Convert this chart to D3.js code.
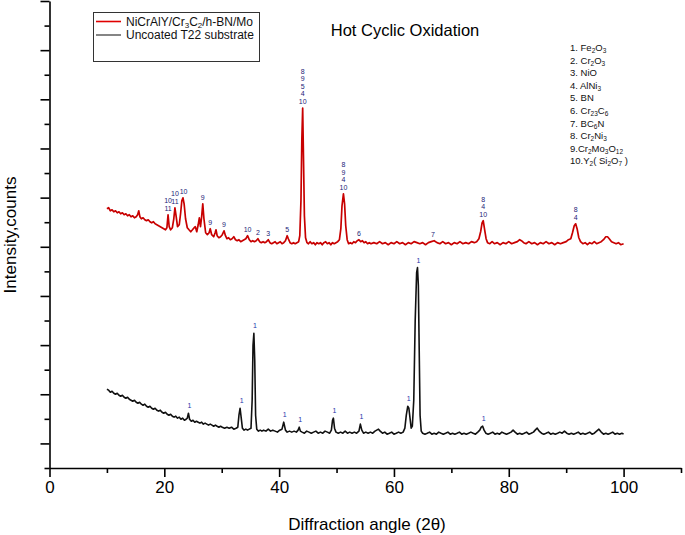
<!DOCTYPE html>
<html><head><meta charset="utf-8">
<script src="https://cdn.jsdelivr.net/npm/d3@7"></script>
<style>
body{margin:0;background:#fff}
svg{display:block}
text{font-family:"Liberation Sans",Arial,Helvetica,sans-serif}
</style>
</head><body>
<svg id="chart" width="685" height="535"></svg>
<script>
// ---------- DATA ----------
const coatedPattern = [
[10.0,2386],[10.3,2397],[10.6,2366],[10.9,2376],[11.2,2356],[11.5,2366],[11.8,2346],[12.1,2356],[12.4,2336],[12.7,2346],
[13.0,2326],[13.3,2336],[13.6,2315],[13.9,2326],[14.2,2305],[14.5,2315],[14.8,2295],[15.1,2305],[15.35,2326],[15.55,2366],
[15.75,2305],[16.0,2285],[16.3,2295],[16.6,2275],[16.9,2265],[17.2,2275],[17.5,2255],[17.8,2244],[18.1,2255],[18.4,2234],
[18.7,2224],[19.0,2214],[19.3,2204],[19.6,2194],[19.9,2184],[20.2,2173],[20.45,2194],[20.65,2326],[20.85,2204],[21.1,2173],
[21.4,2194],[21.65,2285],[21.85,2397],[22.05,2315],[22.3,2204],[22.6,2224],[22.85,2346],[23.05,2468],[23.25,2498],[23.45,2437],
[23.7,2285],[24.0,2194],[24.3,2173],[24.6,2153],[24.9,2173],[25.2,2194],[25.4,2204],[25.65,2153],[25.9,2224],[26.1,2295],
[26.3,2204],[26.5,2305],[26.7,2437],[26.9,2285],[27.2,2143],[27.5,2123],[27.8,2143],[28.0,2184],[28.25,2123],[28.6,2102],
[28.85,2143],[29.0,2173],[29.2,2113],[29.5,2092],[29.8,2102],[30.1,2123],[30.4,2163],[30.65,2113],[30.9,2082],[31.2,2092],
[31.5,2072],[31.8,2082],[32.1,2102],[32.4,2072],[32.7,2062],[33.0,2072],[33.3,2052],[33.6,2062],[33.9,2072],[34.2,2082],
[34.5,2113],[34.8,2072],[35.1,2052],[35.4,2062],[35.7,2052],[36.0,2062],[36.3,2082],[36.6,2052],[36.9,2042],[37.2,2052],
[37.5,2042],[37.8,2052],[38.1,2072],[38.4,2042],[38.7,2031],[39.0,2042],[39.3,2052],[39.6,2031],[39.9,2042],[40.2,2052],
[40.5,2031],[40.8,2042],[41.1,2062],[41.4,2113],[41.6,2082],[41.9,2042],[42.2,2031],[42.5,2042],[42.8,2031],[43.1,2042],
[43.4,2052],[43.6,2113],[43.8,2468],[43.95,3076],[44.1,3411],[44.25,2873],[44.4,2315],[44.6,2092],[44.85,2042],[45.1,2031],
[45.4,2052],[45.7,2031],[46.0,2042],[46.3,2021],[46.6,2042],[46.9,2031],[47.2,2042],[47.5,2021],[47.8,2042],[48.1,2052],
[48.4,2031],[48.7,2042],[49.0,2021],[49.3,2042],[49.6,2031],[49.9,2042],[50.2,2052],[50.5,2072],[50.75,2184],[50.95,2417],
[51.2,2539],[51.4,2437],[51.6,2214],[51.85,2072],[52.1,2031],[52.4,2042],[52.7,2031],[53.0,2052],[53.3,2042],[53.6,2062],
[53.9,2072],[54.2,2052],[54.5,2062],[54.8,2042],[55.1,2052],[55.4,2031],[55.7,2042],[56.0,2031],[56.5,2042],[57.0,2031],
[57.5,2052],[58.0,2031],[58.5,2042],[59.0,2021],[59.5,2042],[60.0,2031],[60.5,2052],[61.0,2031],[61.5,2042],[62.0,2021],
[62.5,2042],[63.0,2031],[63.5,2052],[64.0,2042],[64.5,2031],[65.0,2042],[65.5,2021],[66.0,2042],[66.5,2052],[67.0,2062],
[67.5,2042],[68.0,2031],[68.5,2052],[69.0,2031],[69.5,2042],[70.0,2021],[70.5,2042],[71.0,2031],[71.5,2052],[72.0,2031],
[72.5,2042],[73.0,2031],[73.5,2052],[74.0,2042],[74.4,2052],[74.8,2082],[75.1,2153],[75.35,2244],[75.55,2265],[75.8,2173],
[76.05,2082],[76.3,2042],[76.7,2031],[77.1,2052],[77.5,2031],[78.0,2042],[78.5,2021],[79.0,2042],[79.5,2031],[80.0,2052],
[80.5,2031],[81.0,2042],[81.5,2052],[81.9,2072],[82.2,2062],[82.6,2042],[83.0,2031],[83.5,2052],[84.0,2031],[84.5,2042],
[85.0,2021],[85.5,2042],[86.0,2031],[86.5,2052],[87.0,2031],[87.5,2042],[88.0,2021],[88.5,2042],[89.0,2031],[89.5,2042],
[90.0,2052],[90.4,2072],[90.8,2082],[91.1,2143],[91.4,2214],[91.65,2234],[91.9,2184],[92.2,2092],[92.5,2052],[92.9,2031],
[93.3,2042],[93.7,2021],[94.1,2042],[94.5,2031],[94.9,2052],[95.3,2031],[95.7,2042],[96.1,2052],[96.5,2072],[96.9,2102],
[97.2,2102],[97.5,2082],[97.9,2052],[98.3,2042],[98.7,2031],[99.1,2042],[99.5,2021],[100.0,2031]
];
const substratePattern = [
[10.0,551],[10.3,542],[10.6,520],[10.9,530],[11.2,510],[11.5,500],[11.8,510],[12.1,490],[12.4,480],[12.7,490],
[13.0,470],[13.3,459],[13.6,470],[13.9,449],[14.2,439],[14.5,429],[14.8,439],[15.1,419],[15.4,409],[15.7,419],
[16.0,399],[16.3,388],[16.6,399],[16.9,378],[17.2,368],[17.5,378],[17.8,358],[18.1,348],[18.4,358],[18.7,338],
[19.0,328],[19.3,338],[19.6,317],[19.9,307],[20.2,317],[20.5,297],[20.8,287],[21.1,297],[21.4,277],[21.7,267],
[22.0,277],[22.3,257],[22.6,267],[22.9,246],[23.2,257],[23.5,236],[23.8,246],[24.0,257],[24.2,307],[24.4,246],
[24.7,226],[25.0,236],[25.3,216],[25.6,226],[25.9,216],[26.2,206],[26.5,216],[26.8,196],[27.1,206],[27.4,196],
[27.7,186],[28.0,196],[28.3,186],[28.6,175],[28.9,186],[29.2,175],[29.5,165],[29.8,175],[30.1,165],[30.5,155],
[30.9,165],[31.3,155],[31.7,165],[32.1,145],[32.5,155],[32.8,165],[33.0,287],[33.2,358],[33.4,257],[33.6,155],
[33.9,135],[34.2,145],[34.5,135],[34.8,145],[35.1,155],[35.3,439],[35.45,997],[35.6,1119],[35.75,845],[35.9,287],
[36.1,145],[36.4,125],[36.7,135],[37.0,125],[37.3,135],[37.7,125],[38.1,145],[38.5,125],[38.9,135],[39.3,125],
[39.7,115],[40.1,135],[40.5,145],[40.8,216],[41.1,135],[41.4,115],[41.8,125],[42.2,115],[42.6,125],[43.0,115],
[43.3,135],[43.5,165],[43.7,125],[44.0,115],[44.4,104],[44.8,125],[45.2,115],[45.6,104],[46.0,115],[46.4,125],
[46.8,104],[47.2,115],[47.6,104],[48.0,125],[48.4,115],[48.8,104],[49.1,135],[49.3,236],[49.45,257],[49.65,155],
[49.9,115],[50.3,104],[50.7,115],[51.1,104],[51.5,125],[51.9,104],[52.3,115],[52.7,104],[53.1,115],[53.5,104],
[53.9,125],[54.15,196],[54.4,135],[54.7,104],[55.1,115],[55.5,104],[55.9,115],[56.3,104],[56.7,125],[57.0,135],
[57.3,145],[57.6,125],[58.0,104],[58.4,115],[58.8,94],[59.2,104],[59.6,115],[60.0,94],[60.4,104],[60.8,115],
[61.2,104],[61.6,115],[61.9,155],[62.15,287],[62.4,378],[62.6,358],[62.8,257],[63.0,155],[63.2,175],[63.45,439],
[63.7,1250],[63.95,1737],[64.1,1788],[64.25,1605],[64.4,946],[64.55,287],[64.75,125],[65.0,104],[65.4,94],[65.8,104],
[66.2,115],[66.6,94],[67.0,104],[67.4,94],[67.8,115],[68.2,104],[68.6,94],[69.0,104],[69.4,115],[69.8,94],
[70.2,104],[70.6,94],[71.0,104],[71.4,115],[71.8,94],[72.2,104],[72.6,94],[73.0,104],[73.4,115],[73.8,104],
[74.2,94],[74.6,115],[74.95,135],[75.2,165],[75.45,175],[75.7,135],[76.0,104],[76.4,94],[76.8,104],[77.2,115],
[77.6,94],[78.0,104],[78.4,94],[78.8,115],[79.2,104],[79.6,94],[80.0,104],[80.4,115],[80.75,135],[81.1,115],
[81.5,94],[81.9,104],[82.3,94],[82.7,104],[83.1,115],[83.5,94],[83.9,104],[84.3,115],[84.6,135],[84.95,155],
[85.3,125],[85.7,104],[86.1,94],[86.5,104],[86.9,115],[87.3,94],[87.7,104],[88.1,94],[88.5,104],[88.9,115],
[89.3,104],[89.7,125],[90.1,104],[90.5,94],[90.9,104],[91.3,94],[91.7,104],[92.1,115],[92.5,94],[92.9,104],
[93.3,94],[93.7,104],[94.1,115],[94.5,94],[94.9,104],[95.3,125],[95.7,145],[96.1,115],[96.5,94],[96.9,104],
[97.3,94],[97.7,104],[98.1,115],[98.5,94],[98.9,104],[99.3,94],[99.7,104],[100.0,94]
];
const coatedPeakLabels = [
[20.65,["10","11"]],[21.85,["10","11"]],[23.35,["10"]],[26.7,["9"]],[28.0,["9"]],[30.4,["9"]],
[34.5,["10"]],[36.3,["2"]],[38.1,["3"]],[41.4,["5"]],[44.1,["8","9","5","4","10"]],
[51.2,["8","9","4","10"]],[53.9,["6"]],[66.8,["7"]],[75.55,["8","4","10"]],[91.65,["8","4"]]
];
const substratePeakAngles = [24.2,33.3,35.6,40.8,43.5,49.45,54.15,62.4,64.1,75.45];
const substratePeakText = "1";
const phaseList = ["1. Fe{2}O{3}","2. Cr{2}O{3}","3. NiO","4. AlNi{3}","5. BN","6. Cr{23}C{6}",
  "7. BC{6}N","8. Cr{2}Ni{3}","9.Cr{2}Mo{3}O{12}","10.Y{2}( Si{2}O{7} )"];
const seriesNames = ["NiCrAlY/Cr{3}C{2}/h-BN/Mo","Uncoated T22 substrate"];
const seriesColors = ["#c80000","#111111"];
const legendLineColors = ["#e00000","#666666"];
const chartTitle = "Hot Cyclic Oxidation";
const xTitle = "Diffraction angle (2\u03b8)";
const yTitle = "Intensity,counts";
const xMajorTicks = [0,20,40,60,80,100];
const xMinorTicks = [10,30,50,70,90,110];
const yMajorTicks = [0,500,1000,1500,2000,2500,3000,3500,4000,4500];
const yMinorTicks = [-250,250,750,1250,1750,2250,2750,3250,3750,4250];

// ---------- DRAW ----------
const svg = d3.select("#chart");
const x = d3.scaleLinear().domain([0,110]).range([49.5,681]);
const y = d3.scaleLinear().domain([-250,4500]).range([468,1]);

function richText(sel, str, subSize, shift){
  const parts = str.split(/(\{[^}]*\})/).filter(s=>s.length);
  let sub=false;
  parts.forEach(p=>{
    if(p.startsWith("{")){
      sel.append("tspan").attr("dy", sub?0:shift).attr("font-size",subSize).text(p.slice(1,-1));
      sub=true;
    } else {
      sel.append("tspan").attr("dy", sub?-shift:0).text(p);
      sub=false;
    }
  });
}

// curves
const line = d3.line().x(d=>x(d[0])).y(d=>y(d[1]));
svg.append("path").datum(coatedPattern).attr("d",line)
  .attr("fill","none").attr("stroke",seriesColors[0]).attr("stroke-width",1.7).attr("stroke-linejoin","round");
svg.append("path").datum(substratePattern).attr("d",line)
  .attr("fill","none").attr("stroke",seriesColors[1]).attr("stroke-width",1.6).attr("stroke-linejoin","round");

// axes
function styleAxis(g){
  g.selectAll("path,line").attr("stroke","#000").attr("stroke-width",1.6);
}
const gx = svg.append("g").attr("transform","translate(0,468)");
gx.call(d3.axisBottom(x).tickValues(xMinorTicks).tickSize(5).tickSizeOuter(0).tickFormat(""));
gx.append("g").call(d3.axisBottom(x).tickValues(xMajorTicks).tickSize(9).tickSizeOuter(0).tickFormat(d3.format("d")))
  .call(g=>g.select(".domain").remove());
styleAxis(gx);
gx.selectAll("text").attr("font-size",17).attr("fill","#000").attr("font-family","'Liberation Sans',Arial,sans-serif").attr("y",13);

const gy = svg.append("g").attr("transform","translate(49.5,0)");
gy.call(d3.axisLeft(y).tickValues(yMinorTicks).tickSize(5).tickSizeOuter(0).tickFormat(""));
gy.append("g").call(d3.axisLeft(y).tickValues(yMajorTicks).tickSize(9).tickSizeOuter(0).tickFormat(""))
  .call(g=>g.select(".domain").remove());
styleAxis(gy);

// axis titles
svg.append("text").attr("x",367).attr("y",530).attr("text-anchor","middle").attr("font-size",17).text(xTitle);
svg.append("text").attr("transform","translate(16,235) rotate(-90)").attr("text-anchor","middle").attr("font-size",17).text(yTitle);

// chart title
svg.append("text").attr("x",405).attr("y",36).attr("text-anchor","middle").attr("font-size",16.5).text(chartTitle);

// legend
const lg = svg.append("g");
lg.append("rect").attr("x",93.5).attr("y",12.5).attr("width",166).attr("height",49)
  .attr("fill","#fff").attr("stroke","#333").attr("stroke-width",1);
seriesNames.forEach((n,i)=>{
  const yy = 21.5 + i*13.5;
  lg.append("line").attr("x1",96).attr("x2",121).attr("y1",yy).attr("y2",yy)
    .attr("stroke",legendLineColors[i]).attr("stroke-width",1.6);
  const t = lg.append("text").attr("x",126).attr("y",yy+4.2).attr("font-size",12).attr("fill","#111");
  richText(t,n,8,2);
});

// phase list
phaseList.forEach((p,i)=>{
  const t = svg.append("text").attr("x",570).attr("y",51+i*12.6).attr("font-size",9.5).attr("fill","#111");
  richText(t,p,6.5,2);
});

// peak labels
function peakTop(series, a){
  const pts = series.filter(d=>Math.abs(d[0]-a)<=0.35);
  return d3.max(pts, d=>d[1]);
}
const labelColor = "#1c2377";
coatedPeakLabels.forEach(([a, lines])=>{
  const top = y(peakTop(coatedPattern,a));
  const n = lines.length;
  lines.forEach((s,j)=>{
    svg.append("text").attr("x",x(a)).attr("y",top-4-(n-1-j)*7.6)
      .attr("text-anchor","middle").attr("font-size",7).attr("fill",labelColor).text(s);
  });
});
substratePeakAngles.forEach(a=>{
  const top = y(peakTop(substratePattern,a));
  svg.append("text").attr("x",x(a)+1).attr("y",top-5)
    .attr("text-anchor","middle").attr("font-size",7).attr("fill","#2233aa").text(substratePeakText);
});
</script>
</body></html>
